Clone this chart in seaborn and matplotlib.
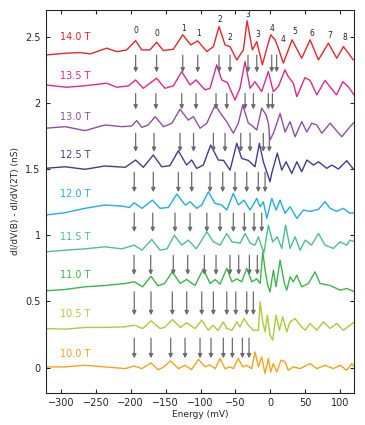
import matplotlib
matplotlib.use("Agg")
import matplotlib.pyplot as plt
import seaborn as sns
import pandas as pd

# ---------------- data ----------------
fields = ["14.0 T", "13.5 T", "13.0 T", "12.5 T", "12.0 T", "11.5 T", "11.0 T", "10.5 T", "10.0 T"]

e_140 = [-322, -292, -272.8, -258, -234.5, -220, -205.8, -193, -184.3, -172.4, -163, -153.3, -139, -125.5, -114, -104, -91, -81.6, -73.5, -64.9, -57.7, -48.1, -38.6, -33.3, -25.7, -19.4, -11.4, -5, 0.6, 6.8, 11.5, 18.7, 31.2, 45, 57, 68.9, 83.2, 95.3, 104.7, 119]
v_140 = [2.362, 2.375, 2.38, 2.37, 2.413, 2.387, 2.40, 2.47, 2.40, 2.40, 2.458, 2.395, 2.405, 2.514, 2.438, 2.468, 2.387, 2.425, 2.576, 2.438, 2.425, 2.324, 2.40, 2.62, 2.40, 2.463, 2.287, 2.413, 2.514, 2.476, 2.413, 2.30, 2.476, 2.337, 2.476, 2.324, 2.451, 2.337, 2.425, 2.324]

e_135 = [-322, -292, -268, -234.5, -220, -203.6, -193, -182, -163, -151, -139, -127, -115, -106.5, -93.5, -86.4, -76.8, -69.6, -61.5, -50.6, -43.5, -36.2, -29, -22, -12.4, -2.8, 4.3, 11.5, 21, 25.8, 33, 38, 49.6, 57, 66.6, 78.5, 85.6, 95, 104, 112, 120]
v_135 = [2.135, 2.118, 2.128, 2.148, 2.118, 2.128, 2.173, 2.11, 2.186, 2.11, 2.128, 2.236, 2.135, 2.173, 2.098, 2.11, 2.287, 2.173, 2.153, 2.022, 2.11, 2.312, 2.11, 2.16, 2.085, 2.236, 2.085, 2.123, 2.249, 2.198, 2.148, 2.047, 2.19, 2.17, 2.06, 2.17, 2.12, 2.06, 2.16, 2.12, 2.06]

e_130 = [-322.9, -294, -265.6, -237, -213, -198.6, -191.5, -184, -175, -165, -153, -141, -129.4, -117.5, -110.3, -100.7, -91, -79, -69.6, -62.4, -53, -45.8, -39.5, -31.5, -26.6, -19.4, -12.3, -6, -2.8, -0.4, 4.4, 14, 21.1, 28.3, 35.5, 45, 52.3, 59.4, 66.6, 73.8, 85.7, 102.4, 114.3, 121]
v_130 = [1.808, 1.82, 1.79, 1.833, 1.82, 1.825, 1.866, 1.815, 1.833, 1.896, 1.82, 1.846, 1.952, 1.87, 1.896, 1.808, 1.846, 1.984, 1.908, 1.858, 1.77, 1.846, 1.984, 1.846, 1.83, 1.795, 1.96, 1.908, 1.846, 1.72, 1.77, 1.92, 1.78, 1.858, 1.744, 1.858, 1.78, 1.846, 1.833, 1.77, 1.846, 1.744, 1.82, 1.858]

e_125 = [-323, -294, -265.6, -237, -208, -193, -182, -167.7, -155.6, -144, -131.8, -120, -112.7, -105.5, -96, -85.4, -74.5, -67, -57.7, -48.1, -41, -31.5, -22, -15.7, -10, -6, -0.4, 2, 10, 16.4, 22.6, 30.7, 38, 45, 52.3, 61.8, 69, 80.9, 88, 97.6, 109.6, 119]
v_125 = [1.505, 1.517, 1.498, 1.523, 1.513, 1.568, 1.513, 1.606, 1.517, 1.525, 1.638, 1.53, 1.568, 1.505, 1.53, 1.681, 1.568, 1.565, 1.492, 1.694, 1.58, 1.565, 1.517, 1.694, 1.555, 1.492, 1.404, 1.467, 1.62, 1.492, 1.555, 1.467, 1.555, 1.48, 1.568, 1.53, 1.555, 1.505, 1.53, 1.5, 1.563, 1.50]

e_120 = [-323, -294, -265.6, -237, -213, -202, -195, -184, -169, -158, -146, -134, -122, -115, -105.5, -98.3, -88.8, -79.2, -69.6, -62.4, -53, -45.8, -37.6, -29, -19.4, -14.6, -10, -5, 2.1, 8.4, 14, 21.1, 28.3, 38, 47.4, 57, 69, 78.5, 85.7, 95, 104.7, 114.3, 121]
v_120 = [1.152, 1.17, 1.203, 1.228, 1.22, 1.21, 1.245, 1.203, 1.265, 1.203, 1.21, 1.311, 1.228, 1.253, 1.203, 1.228, 1.328, 1.24, 1.228, 1.19, 1.316, 1.228, 1.265, 1.19, 1.278, 1.215, 1.253, 1.127, 1.278, 1.19, 1.265, 1.165, 1.215, 1.127, 1.19, 1.18, 1.195, 1.253, 1.203, 1.18, 1.203, 1.165, 1.17]

e_115 = [-323, -294, -265.6, -237, -213, -195, -184, -170, -158, -148, -137.5, -127, -117.5, -106, -91, -81.6, -72, -62.4, -55, -43.2, -36, -29, -22, -17, -12.3, -9, -2.8, 3.4, 10, 16.4, 22, 28.3, 35.5, 42.7, 50, 59, 69, 78.5, 90.5, 100, 109.5, 114.3, 121]
v_115 = [0.874, 0.887, 0.897, 0.912, 0.897, 0.925, 0.887, 0.968, 0.887, 0.897, 1.0, 0.925, 0.963, 0.897, 1.026, 0.95, 0.925, 1.013, 0.95, 0.94, 1.013, 0.94, 0.925, 0.988, 0.91, 0.87, 1.076, 0.95, 0.988, 0.9, 1.076, 0.9, 0.988, 0.887, 0.963, 0.925, 1.013, 0.925, 0.9, 0.95, 0.925, 0.963, 0.95]

e_110 = [-323, -294, -265.6, -237, -208, -195, -183, -171, -161, -151.6, -140.4, -129, -120, -108, -96, -86.4, -79, -72, -62.4, -55, -48, -41, -33.8, -26.6, -19.4, -14.6, -10.8, -7.5, -3.7, -0.4, 4.4, 8.2, 14, 20.2, 23.6, 28.3, 33, 37.8, 45, 54.6, 64.1, 71.3, 85.7, 100, 109.5, 121]
v_110 = [0.58, 0.59, 0.61, 0.62, 0.635, 0.648, 0.61, 0.69, 0.618, 0.635, 0.723, 0.635, 0.666, 0.62, 0.745, 0.635, 0.665, 0.63, 0.749, 0.648, 0.67, 0.648, 0.749, 0.648, 0.67, 0.635, 0.875, 0.736, 0.623, 0.572, 0.736, 0.61, 0.812, 0.635, 0.585, 0.685, 0.648, 0.698, 0.61, 0.635, 0.723, 0.635, 0.62, 0.585, 0.597, 0.572]

e_105 = [-323, -294, -265.6, -237, -208, -195, -183, -171, -158, -151.6, -140.4, -129, -120, -108, -98.3, -89, -82, -75, -67.3, -62.4, -55, -48, -43.5, -37.6, -31.5, -24.3, -17, -14.6, -10.8, -7.5, -4.2, -0.4, 3.5, 8.2, 13, 17.8, 23.6, 28.3, 35.5, 42.7, 50, 57, 66.6, 76, 85.7, 95, 104.7, 114.3, 121]
v_105 = [0.295, 0.29, 0.303, 0.303, 0.308, 0.32, 0.295, 0.353, 0.295, 0.303, 0.363, 0.303, 0.338, 0.295, 0.358, 0.282, 0.32, 0.28, 0.345, 0.295, 0.282, 0.345, 0.307, 0.37, 0.32, 0.282, 0.282, 0.496, 0.345, 0.27, 0.396, 0.245, 0.207, 0.396, 0.282, 0.383, 0.27, 0.345, 0.37, 0.32, 0.282, 0.333, 0.282, 0.345, 0.295, 0.333, 0.282, 0.32, 0.345]

e_100 = [-323, -294, -265.6, -237, -208, -195, -184, -171, -161, -154, -143, -131.8, -122, -113, -103, -93.5, -86.4, -79, -72, -64.9, -57.7, -53, -45.8, -39.5, -33.8, -26.6, -21.9, -17, -12.4, -7.6, -2.8, 0.6, 4.3, 9.2, 15.3, 21, 25.8, 33, 42.5, 57, 66.6, 78.5, 90.5, 100, 109.5, 116.7, 120]
v_100 = [0.005, 0.005, 0.017, 0.005, -0.008, 0.012, -0.008, 0.035, -0.016, 0.0, 0.05, -0.008, 0.017, -0.016, 0.062, 0.005, 0.02, -0.008, 0.068, -0.008, 0.005, -0.008, 0.068, 0.005, 0.017, -0.008, 0.118, 0.005, 0.08, -0.045, 0.068, -0.033, 0.03, -0.033, 0.055, 0.045, -0.02, 0.005, -0.008, 0.03, -0.008, 0.017, -0.008, 0.017, -0.02, 0.03, 0.01]

# field-label heights (data units)
label_y = [2.50, 2.203, 1.896, 1.606, 1.311, 0.988, 0.698, 0.408, 0.106]

# Landau-level index labels above the 14.0 T trace
ll_text = ["0", "0", "1", "1", "2", "2", "3", "3", "4", "4", "5", "6", "7", "8"]
ll_x = [-193, -163, -125, -103.3, -73, -57.3, -32.8, -18.5, 3, 18.7, 35.5, 59.4, 85.7, 107.2]
ll_y = [2.546, 2.521, 2.564, 2.526, 2.632, 2.493, 2.665, 2.514, 2.564, 2.481, 2.539, 2.526, 2.508, 2.496]

# arrows between neighbouring traces: (top, bottom, x positions)
arrow_top = [2.36, 2.07, 1.77, 1.476, 1.167, 0.848, 0.572, 0.222]
arrow_bot = [2.23, 1.95, 1.63, 1.325, 1.024, 0.70, 0.396, 0.07]
arrow_x1 = [-193, -163, -125.5, -104, -73.5, -57.7, -32, -19.4, 2, 9]
arrow_x2 = [-193, -164, -127, -106.5, -77.8, -62.4, -36.2, -24.3, -2.8, 3]
arrow_x3 = [-193, -166.7, -129.4, -110, -81.6, -64.9, -42.4, -29, -10, -1.4]
arrow_x4 = [-195, -167.7, -131.8, -112.7, -86.4, -68.2, -50.6, -33.8, -17.2, -7.5]
arrow_x5 = [-195, -168.5, -136.6, -115, -91, -72, -53, -37.2, -23.3, -12.3]
arrow_x6 = [-195.3, -171.4, -139, -118.4, -94.5, -77.8, -57.8, -45.3, -30, -18.6]
arrow_x7 = [-195, -171, -140.4, -119.8, -98.3, -81.6, -62.4, -49.5, -33.8, -24.3]
arrow_x8 = [-195, -171, -142.8, -122.2, -100.7, -85, -67.3, -54.4, -40, -30.5]

colors = ["#e8262c", "#e0278e", "#8e50a3", "#3b3f94", "#1eaee2", "#4cc08c", "#3db54a", "#a6ce39", "#f7a21b"]

# ---------------- build table ----------------
series = {
    "14.0 T": (e_140, v_140), "13.5 T": (e_135, v_135), "13.0 T": (e_130, v_130),
    "12.5 T": (e_125, v_125), "12.0 T": (e_120, v_120), "11.5 T": (e_115, v_115),
    "11.0 T": (e_110, v_110), "10.5 T": (e_105, v_105), "10.0 T": (e_100, v_100),
}
frames = []
for f in fields:
    e, v = series[f]
    frames.append(pd.DataFrame({"energy": e, "signal": v, "field": f}))
df = pd.concat(frames, ignore_index=True)
palette = dict(zip(fields, colors))

# ---------------- plot ----------------
sns.set_style("ticks")
plt.rcParams["font.family"] = ["DejaVu Sans"]
fig = plt.figure(figsize=(3.65, 4.25), dpi=100)
ax = fig.add_axes([0.125, 0.076, 0.845, 0.9])

sns.lineplot(data=df, x="energy", y="signal", hue="field", palette=palette,
             estimator=None, sort=False, legend=False, lw=1.0, ax=ax)

arrow_rows = [arrow_x1, arrow_x2, arrow_x3, arrow_x4, arrow_x5, arrow_x6, arrow_x7, arrow_x8]
for top, bot, xs in zip(arrow_top, arrow_bot, arrow_rows):
    for x in xs:
        ax.annotate("", xy=(x, bot), xytext=(x, top),
                    arrowprops=dict(arrowstyle="-|>", color="#6c6c6c", lw=0.9,
                                    mutation_scale=6, shrinkA=0, shrinkB=0))

for f, c, y in zip(fields, colors, label_y):
    ax.text(-301, y, f, color=c, fontsize=7, va="center", ha="left")

for t, x, y in zip(ll_text, ll_x, ll_y):
    ax.text(x, y, t, fontsize=5.5, ha="center", va="center", color="#222222")

ax.set_xlim(-322, 120)
ax.set_ylim(-0.19, 2.7)
ax.set_xticks([-300, -250, -200, -150, -100, -50, 0, 50, 100])
ax.set_yticks([0, 0.5, 1, 1.5, 2, 2.5])
ax.set_yticklabels(["0", "0.5", "1", "1.5", "2", "2.5"])
ax.tick_params(direction="in", top=True, right=True, labelsize=7, length=3, width=0.8)
ax.set_xlabel("Energy (mV)", fontsize=6.5, labelpad=2)
ax.set_ylabel("dI/dV(B) - dI/dV(2T) (nS)", fontsize=6.5, labelpad=4)
for s in ax.spines.values():
    s.set_linewidth(0.8)

fig.savefig("out.png", dpi=100)
